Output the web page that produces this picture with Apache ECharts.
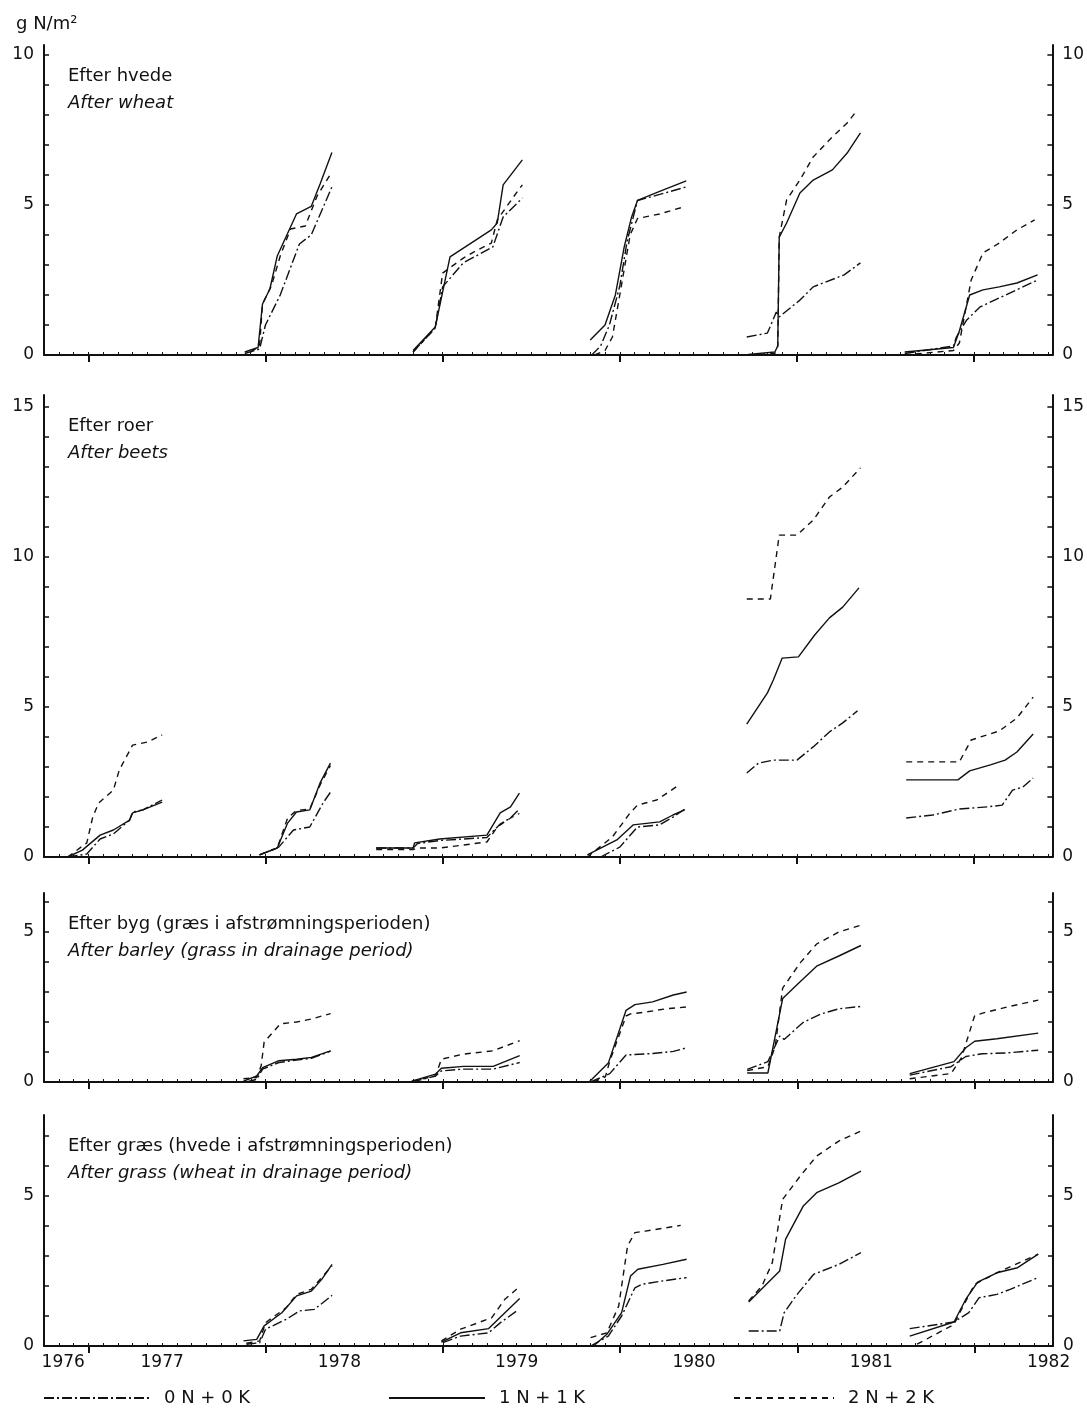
<!DOCTYPE html>
<html><head><meta charset="utf-8">
<script src="https://cdn.jsdelivr.net/npm/echarts@6/dist/echarts.min.js"></script>
<style>html,body{margin:0;padding:0;background:#fff}#c{width:1087px;height:1408px}</style>
</head><body><div id="c"></div>
<script>
// x values: months counted from Jan 1976 (0 = Jan 1976, 12 = Jan 1977, ...)
const treatments = ['0 N + 0 K', '1 N + 1 K', '2 N + 2 K'];
const yearLabels = ['1976', '1977', '1978', '1979', '1980', '1981', '1982'];
const yearLabelPos = [5.3, 12, 24, 36, 48, 60, 72];
const majorTickMonths = [7, 19, 31, 43, 55, 67];
const panelTitlesDa = ['Efter hvede', 'Efter roer', 'Efter byg (græs i afstrømningsperioden)', 'Efter græs (hvede i afstrømningsperioden)'];
const panelTitlesEn = ['After wheat', 'After beets', 'After barley (grass in drainage period)', 'After grass (wheat in drainage period)'];
const panelYMax = [10.33, 15.4, 6.3, 7.7];
const panelYLabels = [[0, 5, 10], [0, 5, 10, 15], [0, 5], [0, 5]];
const yUnit = 'g N/m²';

// After wheat
const wheat0 = [
  [[17.6,0.05],[18.6,0.2],[19.0,1.0],[20.0,2.0],[21.3,3.7],[22.1,4.0],[22.8,4.8],[23.5,5.6]],
  [[29.0,0.1],[30.5,0.9],[31.0,2.27],[32.4,3.07],[34.4,3.6],[35.1,4.6],[36.4,5.23]],
  [[41.1,0],[41.7,0.3],[42.3,1.0],[43.0,2.3],[43.5,3.8],[44.2,5.15],[45.7,5.35],[47.5,5.6]],
  [[51.6,0.6],[53.0,0.73],[53.6,1.43],[53.8,1.27],[55.2,1.83],[56.1,2.27],[58.2,2.67],[59.3,3.07]],
  [[62.3,0.05],[65.6,0.3],[65.8,0.6],[66.5,1.17],[67.4,1.6],[68.7,1.9],[71.3,2.5]]
];
const wheat1 = [
  [[17.6,0.1],[18.5,0.25],[18.8,1.7],[19.3,2.2],[19.8,3.3],[21.1,4.7],[22.1,4.95],[22.7,5.7],[23.5,6.75]],
  [[29.0,0.15],[30.5,0.93],[31.5,3.27],[34.3,4.17],[34.7,4.4],[35.1,5.67],[36.4,6.5]],
  [[41.0,0.5],[42.0,1.0],[42.7,2.0],[43.3,3.6],[43.8,4.6],[44.2,5.15],[45.7,5.45],[47.5,5.8]],
  [[51.7,0.02],[53.5,0.1],[53.7,0.3],[53.8,3.93],[54.3,4.4],[55.2,5.4],[56.1,5.83],[57.4,6.17],[58.4,6.73],[59.3,7.4]],
  [[62.3,0.1],[65.6,0.25],[66.0,0.8],[66.7,2.0],[67.6,2.17],[68.7,2.27],[69.9,2.4],[71.3,2.67]]
];
const wheat2 = [
  [[18.0,0.1],[18.6,0.3],[18.8,1.7],[19.4,2.3],[20.0,3.3],[20.7,4.2],[21.7,4.3],[22.5,5.3],[23.5,6.1]],
  [[29.0,0.1],[30.5,0.9],[31.0,2.73],[32.4,3.23],[33.1,3.43],[34.3,3.73],[34.7,4.5],[35.8,5.27],[36.4,5.67]],
  [[41.3,0],[42.0,0.15],[42.5,0.6],[43.0,2.0],[43.7,4.0],[44.2,4.55],[45.7,4.7],[47.3,4.93]],
  [[51.7,0],[53.5,0.05],[53.7,0.3],[53.8,3.93],[54.3,5.17],[55.2,5.83],[56.1,6.6],[57.4,7.27],[58.4,7.73],[59.1,8.17]],
  [[62.3,0],[65.6,0.15],[66.0,0.4],[66.8,2.5],[67.6,3.4],[68.7,3.73],[69.9,4.17],[71.1,4.5]]
];

// After beets
const beets0 = [
  [[5.6,0],[6.9,0.1],[7.8,0.6],[8.7,0.77],[9.8,1.23],[10.0,1.5],[10.7,1.57],[12.0,1.9]],
  [[18.6,0.07],[19.9,0.33],[20.9,0.9],[22.0,1.0],[22.9,1.8],[23.5,2.23]],
  [[26.5,0.3],[29.0,0.3],[29.3,0.45],[30.8,0.55],[34.0,0.65],[34.9,1.1],[35.6,1.3],[36.2,1.6]],
  [[41.7,0],[43.0,0.33],[44.2,1.0],[45.7,1.07],[46.6,1.33],[47.4,1.6]],
  [[51.6,2.8],[52.4,3.13],[53.4,3.23],[55.0,3.23],[56.1,3.67],[57.2,4.17],[58.1,4.47],[59.1,4.87]],
  [[62.4,1.3],[64.2,1.4],[66.0,1.6],[67.9,1.67],[68.9,1.73],[69.6,2.23],[70.3,2.33],[71.0,2.63]]
];
const beets1 = [
  [[5.6,0],[6.6,0.23],[7.8,0.73],[8.7,0.9],[9.8,1.23],[10.0,1.47],[10.7,1.57],[12.0,1.83]],
  [[18.6,0.07],[19.8,0.3],[20.5,1.13],[21.1,1.5],[22.0,1.57],[22.7,2.47],[23.4,3.13]],
  [[26.5,0.3],[29.0,0.3],[29.1,0.47],[30.8,0.6],[34.0,0.73],[34.9,1.47],[35.6,1.67],[36.2,2.13]],
  [[40.8,0.07],[42.8,0.57],[43.9,1.07],[45.7,1.17],[46.6,1.4],[47.4,1.57]],
  [[51.6,4.43],[53.0,5.47],[53.4,5.9],[54.0,6.63],[55.1,6.67],[56.2,7.4],[57.2,7.97],[58.1,8.33],[59.2,8.97]],
  [[62.4,2.57],[65.9,2.57],[66.7,2.87],[68.1,3.07],[69.1,3.23],[69.9,3.5],[71.0,4.1]]
];
const beets2 = [
  [[5.6,0],[6.9,0.47],[7.3,1.33],[7.7,1.8],[8.7,2.23],[9.1,2.9],[10.0,3.73],[11.0,3.83],[12.0,4.07]],
  [[18.6,0.07],[19.8,0.3],[20.5,1.3],[21.1,1.55],[22.0,1.6],[22.7,2.4],[23.4,3.05]],
  [[26.5,0.25],[29.0,0.25],[29.3,0.3],[30.8,0.3],[34.0,0.5],[34.7,1.0],[35.6,1.3],[36.2,1.45]],
  [[40.8,0],[42.5,0.67],[43.7,1.47],[44.2,1.73],[45.5,1.9],[46.2,2.13],[47.1,2.43]],
  [[51.6,8.6],[53.2,8.6],[53.8,10.73],[55.0,10.73],[56.1,11.23],[57.2,12.0],[58.1,12.33],[59.3,12.97]],
  [[62.4,3.17],[66.0,3.17],[66.8,3.9],[68.7,4.2],[69.9,4.63],[71.0,5.33]]
];

// After barley (grass in drainage period)
const barley0 = [
  [[17.7,0],[18.4,0.09],[18.8,0.43],[19.9,0.65],[21.1,0.73],[22.1,0.79],[23.4,1.03]],
  [[28.9,0],[30.5,0.2],[30.9,0.37],[32.4,0.43],[34.4,0.43],[36.2,0.65]],
  [[41.0,0],[42.3,0.28],[43.4,0.9],[45.2,0.95],[46.6,1.02],[47.5,1.14]],
  [[51.6,0.42],[53.0,0.68],[53.8,1.53],[54.1,1.42],[55.4,1.99],[56.6,2.27],[57.8,2.44],[59.3,2.52]],
  [[62.6,0.23],[65.4,0.51],[66.4,0.85],[67.5,0.94],[69.2,0.97],[71.3,1.06]]
];
const barley1 = [
  [[17.5,0.03],[18.4,0.2],[18.8,0.48],[19.9,0.71],[21.1,0.76],[22.1,0.82],[23.4,1.04]],
  [[28.9,0.03],[30.5,0.26],[30.9,0.46],[32.4,0.52],[34.4,0.52],[36.2,0.88]],
  [[40.9,0],[42.2,0.63],[43.4,2.39],[44.0,2.58],[45.2,2.67],[46.6,2.9],[47.5,3.0]],
  [[51.6,0.3],[53.0,0.3],[54.0,2.78],[55.2,3.35],[56.3,3.86],[57.8,4.2],[59.3,4.55]],
  [[62.6,0.28],[65.6,0.68],[66.4,1.14],[67.0,1.36],[68.5,1.44],[71.3,1.63]]
];
const barley2 = [
  [[17.5,0.11],[18.4,0.15],[18.7,0.54],[18.9,1.33],[20.0,1.94],[21.1,2.0],[22.1,2.1],[23.4,2.28]],
  [[28.9,0.03],[30.5,0.2],[30.9,0.76],[32.4,0.93],[34.4,1.04],[36.2,1.38]],
  [[41.2,0],[42.0,0.17],[42.3,0.7],[43.4,2.2],[43.7,2.27],[44.7,2.33],[46.1,2.44],[47.5,2.5]],
  [[51.6,0.38],[53.0,0.51],[53.5,1.19],[54.0,3.13],[55.2,3.98],[56.3,4.6],[57.8,5.0],[59.3,5.23]],
  [[62.6,0.11],[65.4,0.28],[66.1,0.8],[67.0,2.22],[67.8,2.33],[69.2,2.5],[71.3,2.73]]
];

// After grass (wheat in drainage period)
const grass0 = [
  [[17.7,0.06],[18.6,0.11],[19.0,0.56],[20.4,0.89],[21.3,1.17],[22.3,1.22],[23.5,1.69]],
  [[31.0,0.11],[32.2,0.33],[34.1,0.44],[34.9,0.78],[36.0,1.17]],
  [[41.0,0],[42.2,0.33],[43.1,1.0],[44.0,1.94],[44.5,2.06],[45.9,2.17],[47.5,2.28]],
  [[51.7,0.5],[53.8,0.5],[54.1,1.11],[54.9,1.67],[56.1,2.39],[57.8,2.72],[59.3,3.11]],
  [[62.6,0.58],[65.6,0.8],[66.6,1.11],[67.3,1.61],[68.5,1.72],[69.4,1.89],[71.3,2.28]]
];
const grass1 = [
  [[17.5,0.17],[18.4,0.22],[18.9,0.67],[20.1,1.11],[21.1,1.67],[22.1,1.83],[22.8,2.22],[23.5,2.72]],
  [[30.9,0.13],[32.2,0.44],[34.1,0.58],[35.2,1.11],[36.2,1.58]],
  [[41.2,0],[42.1,0.39],[43.1,1.11],[43.7,2.33],[44.2,2.56],[45.9,2.72],[47.5,2.89]],
  [[51.7,1.47],[53.0,2.11],[53.8,2.5],[54.2,3.56],[55.4,4.67],[56.3,5.11],[57.8,5.44],[59.3,5.83]],
  [[62.6,0.33],[65.6,0.8],[66.4,1.56],[67.2,2.13],[68.5,2.44],[69.9,2.61],[71.3,3.06]]
];
const grass2 = [
  [[17.7,0.09],[18.6,0.17],[19.0,0.78],[20.4,1.28],[21.1,1.72],[22.1,1.89],[23.5,2.67]],
  [[30.9,0.17],[32.2,0.56],[34.3,0.94],[35.2,1.56],[36.1,1.94]],
  [[41.0,0.28],[42.1,0.44],[42.9,1.33],[43.5,3.33],[44.0,3.78],[44.7,3.83],[47.1,4.02]],
  [[51.7,1.5],[52.6,2.0],[53.3,2.78],[54.0,4.89],[55.2,5.67],[56.3,6.33],[57.8,6.83],[59.3,7.17]],
  [[63.1,0.06],[65.6,0.72],[66.1,1.22],[67.0,2.06],[68.5,2.44],[71.3,3.06]]
];

const panels = [[wheat0, wheat1, wheat2], [beets0, beets1, beets2], [barley0, barley1, barley2], [grass0, grass1, grass2]];

// ---- layout / styling ----
const FONT = 'DejaVu Sans';
const INK = '#111';
const X_MIN = 4, X_MAX = 72.3;
const gridBoxes = [
  {top: 45, height: 310},
  {top: 395, height: 462},
  {top: 893, height: 189},
  {top: 1115, height: 231}
];
const dashStyles = [[10, 3, 2, 3], 'solid', [6, 5]];
const monthTicks = [];
for (let m = X_MIN; m <= 72; m++) monthTicks.push(m);

function joinSegments(segs) {
  const out = [];
  segs.forEach((s, i) => {
    if (i > 0) {
      const prev = segs[i - 1];
      out.push([(prev[prev.length - 1][0] + s[0][0]) / 2, null]);
    }
    s.forEach(p => out.push(p));
  });
  return out;
}

const grid = [], xAxis = [], yAxis = [], series = [], graphic = [];
gridBoxes.forEach((g, i) => {
  grid.push({left: 44, right: 34, top: g.top, height: g.height, containLabel: false});
  const yTicks = [];
  for (let v = 0; v <= Math.floor(panelYMax[i]); v++) yTicks.push(v);
  xAxis.push({
    gridIndex: i, type: 'value', min: X_MIN, max: X_MAX, position: 'bottom',
    axisLine: {show: true, onZero: false, lineStyle: {color: INK, width: 2}},
    axisTick: {show: true, inside: true, length: 3, customValues: monthTicks, lineStyle: {color: INK, width: 1}},
    axisLabel: {show: false}, splitLine: {show: false}
  });
  xAxis.push({
    gridIndex: i, type: 'value', min: X_MIN, max: X_MAX, position: 'bottom',
    axisLine: {show: false, onZero: false},
    axisTick: {show: true, inside: false, length: 7, customValues: majorTickMonths, lineStyle: {color: INK, width: 2}},
    axisLabel: i === 3 ? {
      show: true, customValues: yearLabelPos, margin: 8,
      formatter: v => yearLabels[yearLabelPos.indexOf(v)],
      fontFamily: FONT, fontSize: 17, color: INK
    } : {show: false},
    splitLine: {show: false}
  });
  ['left', 'right'].forEach(pos => {
    yAxis.push({
      gridIndex: i, type: 'value', min: 0, max: panelYMax[i], position: pos,
      axisLine: {show: true, onZero: false, lineStyle: {color: INK, width: 2}},
      axisTick: {show: true, inside: true, length: 5, customValues: yTicks, lineStyle: {color: INK, width: 1.5}},
      axisLabel: {show: true, customValues: panelYLabels[i], margin: 10, fontFamily: FONT, fontSize: 17, color: INK},
      splitLine: {show: false}
    });
  });
  panels[i].forEach((segs, k) => {
    series.push({
      type: 'line', name: treatments[k], xAxisIndex: 2 * i, yAxisIndex: 2 * i,
      data: joinSegments(segs), symbol: 'none', showSymbol: false, connectNulls: false,
      silent: true, animation: false,
      itemStyle: {color: INK, opacity: 0},
      lineStyle: {color: INK, width: 1.4, type: dashStyles[k]}
    });
  });
  graphic.push({type: 'text', left: 68, top: g.top + 22,
    style: {text: panelTitlesDa[i], fontFamily: FONT, fontSize: 18, fill: INK}});
  graphic.push({type: 'text', left: 68, top: g.top + 49,
    style: {text: panelTitlesEn[i], fontFamily: FONT, fontSize: 18, fontStyle: 'italic', fill: INK}});
});
graphic.push({type: 'text', left: 16, top: 15, style: {text: yUnit, fontFamily: FONT, fontSize: 18, fill: INK}});

const legendLeft = [38, 383, 728];
const legendItemW = [106, 96, 100];
const legend = treatments.map((t, k) => ({
  data: [t], left: legendLeft[k], top: 1384, itemWidth: legendItemW[k], itemHeight: 14,
  selectedMode: false,
  itemStyle: {opacity: 0, borderWidth: 0},
  textStyle: {fontFamily: FONT, fontSize: 18, color: INK, padding: [0, 0, 0, 9]}
}));

const chart = echarts.init(document.getElementById('c'), null, {renderer: 'canvas'});
chart.setOption({
  backgroundColor: '#fff', animation: false,
  grid, xAxis, yAxis, series, legend, graphic
});
</script></body></html>
